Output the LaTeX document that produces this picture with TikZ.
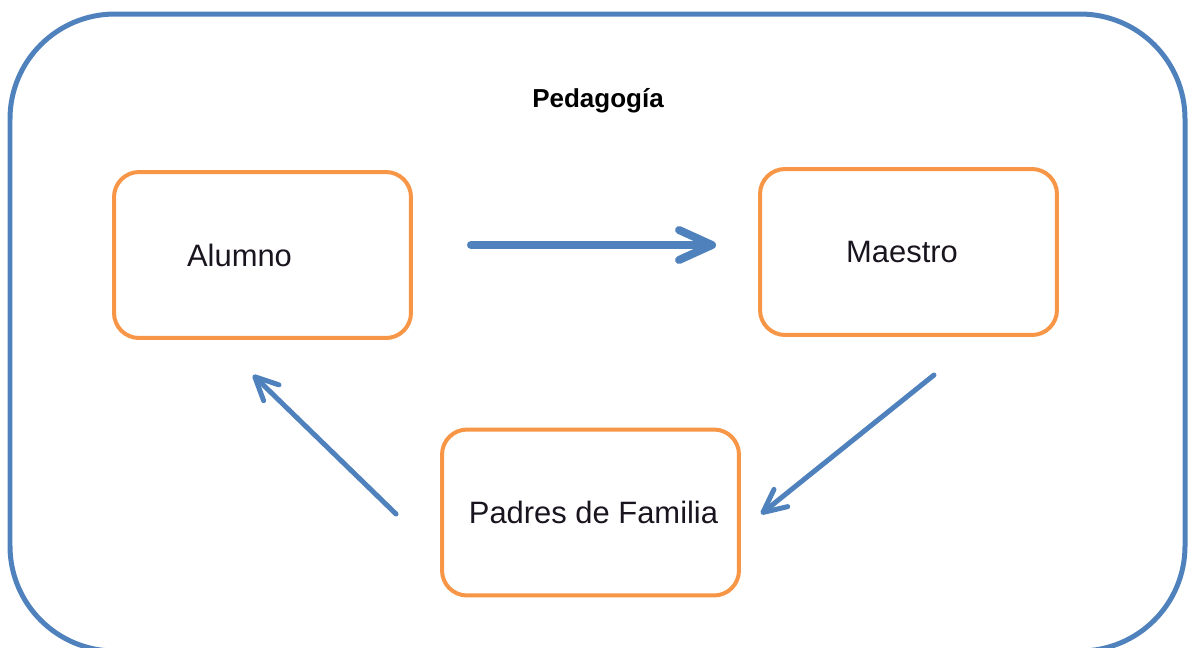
\documentclass[tikz,border=0pt]{standalone}
\usepackage{fontspec}
\setmainfont{Liberation Sans}
\usetikzlibrary{arrows.meta}
\definecolor{azul}{RGB}{79,129,189}
\definecolor{naranja}{RGB}{247,150,70}
\definecolor{tinta}{RGB}{25,20,30}
\tikzset{>=latex,
  caja/.style={draw=naranja, line width=0.08cm, rounded corners=0.5cm,
    minimum width=5.94cm, minimum height=3.32cm, text=tinta,
    font=\fontsize{17.6}{20}\selectfont},
  flecha/.style={draw=azul, line width=0.16cm, line cap=round,
    -{Straight Barb[round,length=0.66cm,width=0.6cm]}},
  flechita/.style={draw=azul, line width=0.1cm, line cap=round,
    -{Straight Barb[round,length=0.46cm,width=0.44cm]}}}

\begin{document}
\begin{tikzpicture}[x=0.02cm,y=-0.02cm]
            \useasboundingbox (0,0) rectangle (1190,647);
            \draw[azul, line width=0.1cm, rounded corners=2.1cm] (10,14) rectangle (1185,651);
            \node[font=\fontsize{14.8}{17}\selectfont\bfseries] (titulo) at (598,101){Pedagogía};
            \node[caja] (al) at (262.5,255){\hspace*{-0.92cm}Alumno};
            \node[caja] (ma) at (908.5,252){\hspace*{-0.26cm}Maestro};
            \node[caja] (pf) at (590.5,512.5){\hspace*{0.12cm}Padres de Familia};
            \draw[flecha] ([shift={(58,-10)}]al.east) -- ([shift={(-42,-7)}]ma.west);
            \draw[flechita] ([shift={(25.5,38)}]ma.south) -- ([shift={(20,1.5)}]pf.east);
            \draw[flechita] ([shift={(-44,1.5)}]pf.west) -- ([shift={(-9.5,35)}]al.south);
        \end{tikzpicture}
\end{document}
